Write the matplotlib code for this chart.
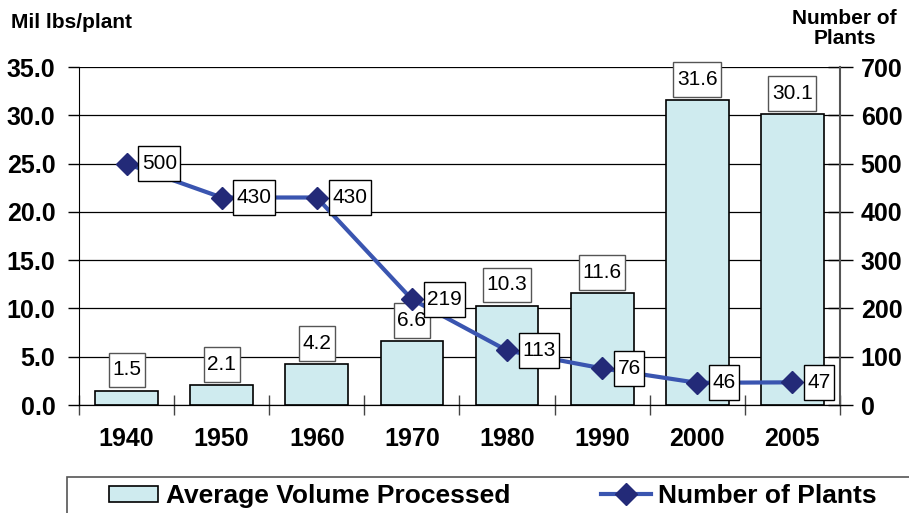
import numpy as np
import matplotlib.pyplot as plt
from matplotlib.lines import Line2D
from matplotlib.patches import Patch, Rectangle
from matplotlib.path import Path

years = ['1940', '1950', '1960', '1970', '1980', '1990', '2000', '2005']
avg_volume = [1.5, 2.1, 4.2, 6.6, 10.3, 11.6, 31.6, 30.1]
num_plants = [500, 430, 430, 219, 113, 76, 46, 47]

plt.rcParams['font.family'] = ['Liberation Sans', 'DejaVu Sans']

bar_color = '#cfebef'
line_color = '#3a55b0'
marker_color = '#232a78'


# label box: narrow at the sides, tall at top and bottom
def label_box(x0, y0, width, height, mutation_size):
    px, py = 0.17 * mutation_size, 0.38 * mutation_size
    x0, y0 = x0 - px, y0 - py
    x1, y1 = x0 + width + 2 * px, y0 + height + 2 * py
    return Path([(x0, y0), (x1, y0), (x1, y1), (x0, y1), (x0, y0)], closed=True)


fig = plt.figure(figsize=(9.09, 5.13), dpi=100)
ax = fig.add_axes([0.0869, 0.2105, 0.8371, 0.6585])
ax2 = ax.twinx()

x = np.arange(len(years))
ax.bar(x, avg_volume, width=0.66, color=bar_color, edgecolor='black', linewidth=1.2, zorder=2)
ax.set_xlim(-0.5, len(years) - 0.5)
ax.set_ylim(0, 35)
ax.set_yticks(np.arange(0, 36, 5))
ax.set_yticklabels([f'{v:.1f}' for v in np.arange(0, 36, 5)])
ax.yaxis.grid(True, color='black', linewidth=0.9, zorder=0)
ax.set_axisbelow(True)

# category ticks at boundaries, labels at centres
ax.set_xticks(np.arange(-0.5, len(years), 1.0))
ax.set_xticklabels([])
ax.set_xticks(x, minor=True)
ax.set_xticklabels(years, minor=True)
ax.tick_params(axis='x', which='major', direction='inout', length=14, width=1, color='#444444')
ax.tick_params(axis='x', which='minor', length=0, pad=16, labelsize=18)
for lab in ax.get_xticklabels(minor=True):
    lab.set_fontweight('bold')
ax.tick_params(axis='y', direction='out', length=8, labelsize=18, width=1, pad=9)
for lab in ax.get_yticklabels():
    lab.set_fontweight('bold')

ax.spines['top'].set_visible(False)
ax2.spines['top'].set_visible(False)
ax.spines['right'].set_visible(False)
ax2.spines['left'].set_visible(False)
ax2.spines['right'].set_color('#555555')
ax2.spines['right'].set_linewidth(1.5)

for xi, v in zip(x, avg_volume):
    ax.annotate(f'{v}', (xi, v), xytext=(0, 8), textcoords='offset points',
                ha='center', va='bottom', fontsize=15, zorder=5,
                bbox=dict(boxstyle=label_box, fc='white', ec='#555555', lw=1))

ax2.plot(x, num_plants, color=line_color, linewidth=3, marker='D', markersize=11,
         markerfacecolor=marker_color, markeredgecolor=marker_color, zorder=4)
ax2.set_ylim(0, 700)
ax2.set_yticks(np.arange(0, 701, 100))
ax2.tick_params(axis='y', direction='inout', length=18, labelsize=18, width=1, pad=6)
for lab in ax2.get_yticklabels():
    lab.set_fontweight('bold')

for xi, v in zip(x, num_plants):
    ax2.annotate(f'{v}', (xi, v), xytext=(11, 0), textcoords='offset points',
                 ha='left', va='center', fontsize=15, zorder=6,
                 bbox=dict(boxstyle=label_box, fc='white', ec='black', lw=1))

fig.text(0.012, 0.957, 'Mil lbs/plant', fontsize=15, fontweight='bold', ha='left', va='center')
fig.text(0.929, 0.945, 'Number of\nPlants', fontsize=15, fontweight='bold', ha='center', va='center',
         linespacing=1.05)

# legend frame runs off the bottom and right edges
fig.patches.append(Rectangle((0.074, -0.1), 1.0, 0.17, transform=fig.transFigure,
                             fill=False, edgecolor='#555555', linewidth=1.2))
handles = [Patch(facecolor=bar_color, edgecolor='black', linewidth=1.2),
           Line2D([], [], color=line_color, linewidth=3, marker='D', markersize=11,
                  markerfacecolor=marker_color, markeredgecolor=marker_color)]
fig.legend(handles, ['Average Volume Processed', 'Number of Plants'],
           loc='center left', bbox_to_anchor=(0.12, 0.033), ncol=2, frameon=False,
           prop={'weight': 'bold', 'size': 19}, handlelength=1.86, handleheight=0.55,
           handletextpad=0.3, columnspacing=3.45, borderaxespad=0, borderpad=0)

fig.savefig('out.png', dpi=100)
